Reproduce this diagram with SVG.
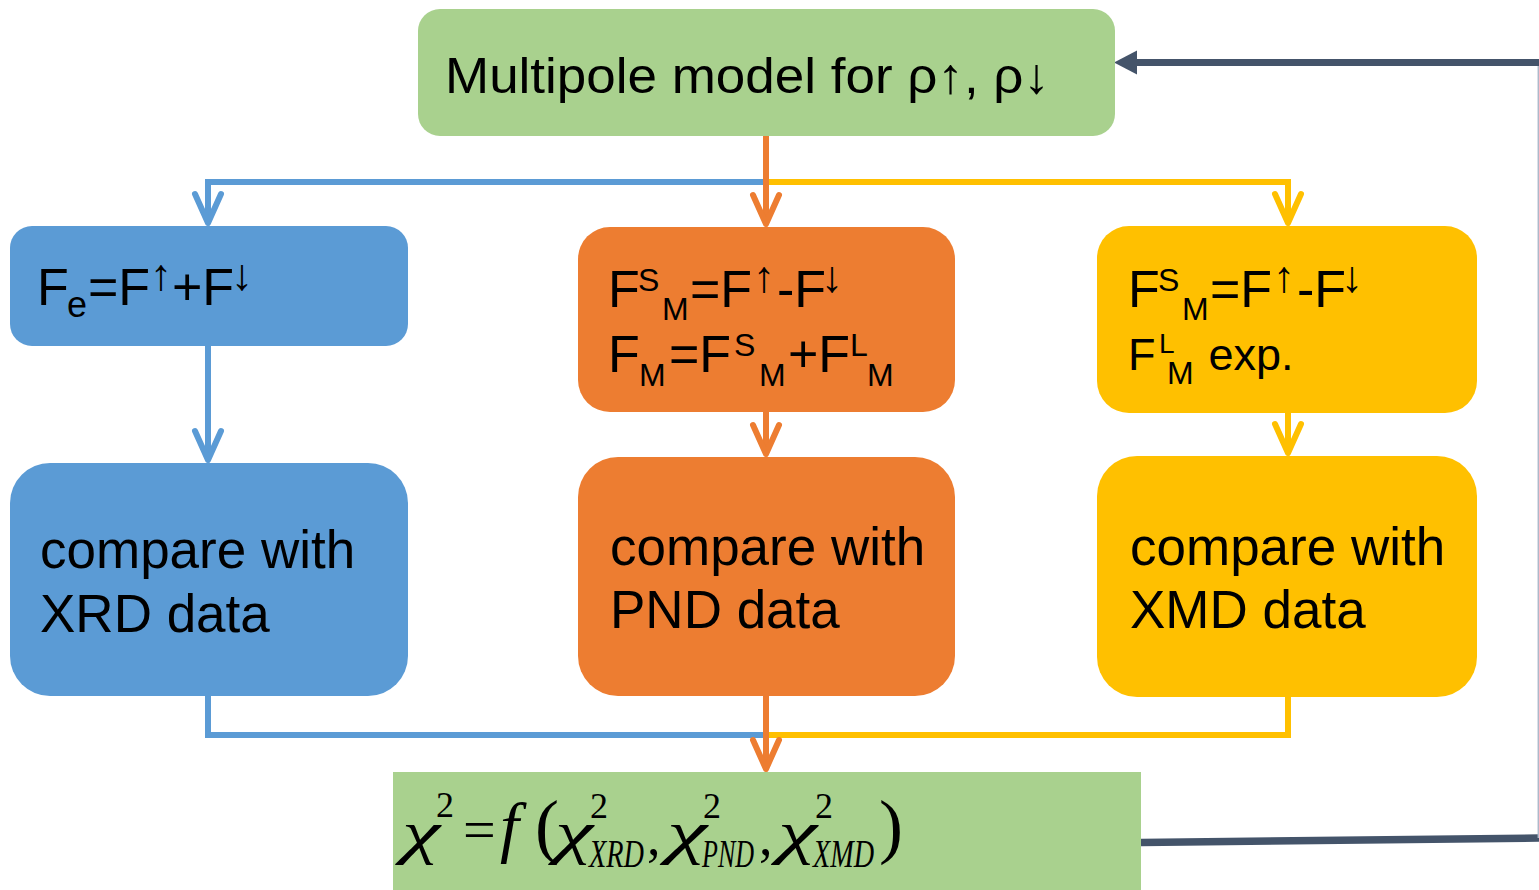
<svg xmlns="http://www.w3.org/2000/svg" width="1539" height="890" viewBox="0 0 1539 890">
  <style>
    .sans { font-family: "Liberation Sans", Arial, sans-serif; fill: #000; }
    .math { font-family: "Liberation Serif", "Times New Roman", serif; fill: #000; }
    .it { font-style: italic; }
    .arr { font-size: 44px; }
    .green { fill: #A9D18E; }
    .blue { fill: #5B9BD5; }
    .orange { fill: #ED7D31; }
    .yellow { fill: #FFC000; }
    .conn { fill: none; stroke-width: 6; stroke-linejoin: miter; }
  </style>
  <defs>
    <marker id="vBlue" markerUnits="userSpaceOnUse" orient="auto" refX="0" refY="0" markerWidth="40" markerHeight="40" viewBox="-34 -18 40 36" overflow="visible">
      <path d="M-29,-13 L0,0 L-29,13" fill="none" stroke="#5B9BD5" stroke-width="6" stroke-linecap="round" stroke-linejoin="round"/>
    </marker>
    <marker id="vOrange" markerUnits="userSpaceOnUse" orient="auto" refX="0" refY="0" markerWidth="40" markerHeight="40" viewBox="-34 -18 40 36" overflow="visible">
      <path d="M-29,-13 L0,0 L-29,13" fill="none" stroke="#ED7D31" stroke-width="6" stroke-linecap="round" stroke-linejoin="round"/>
    </marker>
    <marker id="vYellow" markerUnits="userSpaceOnUse" orient="auto" refX="0" refY="0" markerWidth="40" markerHeight="40" viewBox="-34 -18 40 36" overflow="visible">
      <path d="M-29,-13 L0,0 L-29,13" fill="none" stroke="#FFC000" stroke-width="6" stroke-linecap="round" stroke-linejoin="round"/>
    </marker>
  </defs>

  <rect width="1539" height="890" fill="#FFFFFF"/>

  <!-- connectors -->
  <g id="connectors">
    <!-- fan-out from the model box -->
    <path class="conn" stroke="#5B9BD5" d="M766,182 H208 V223" marker-end="url(#vBlue)"/>
    <path class="conn" stroke="#FFC000" d="M766,182 H1288 V223" marker-end="url(#vYellow)"/>
    <path class="conn" stroke="#ED7D31" d="M766,136 V224" marker-end="url(#vOrange)"/>
    <!-- structure factor to comparison -->
    <path class="conn" stroke="#5B9BD5" d="M208,346 V460" marker-end="url(#vBlue)"/>
    <path class="conn" stroke="#ED7D31" d="M766,412 V454" marker-end="url(#vOrange)"/>
    <path class="conn" stroke="#FFC000" d="M1288,413 V453" marker-end="url(#vYellow)"/>
    <!-- merge into chi-square -->
    <path class="conn" stroke="#5B9BD5" d="M208,696 V735 H766"/>
    <path class="conn" stroke="#FFC000" d="M1288,697 V735 H766"/>
    <path class="conn" stroke="#ED7D31" d="M766,696 V769" marker-end="url(#vOrange)"/>
    <!-- feedback loop -->
    <path d="M1141,842.5 L1545,838" fill="none" stroke="#44546A" stroke-width="7.5"/>
    <line x1="1538.3" y1="62" x2="1538.3" y2="838" stroke="#ADB9CA" stroke-width="1.5"/>
    <path d="M1545,62.5 H1134" fill="none" stroke="#44546A" stroke-width="7"/>
    <polygon points="1114,62.5 1137,50.5 1137,74.5" fill="#44546A"/>
  </g>

  <!-- multipole model -->
  <g id="node-model">
    <rect class="green" x="418" y="9" width="697" height="127" rx="22"/>
    <text class="sans" x="445" y="93" font-size="50" textLength="605" lengthAdjust="spacingAndGlyphs">Multipole model for  ρ↑, ρ↓</text>
  </g>

  <!-- electronic structure factor -->
  <g id="node-fe">
    <rect class="blue" x="10" y="226" width="398" height="120" rx="22"/>
    <text class="sans" font-size="52">
      <tspan x="37" y="305">F</tspan><tspan x="67" y="317" font-size="36">e</tspan><tspan x="88" y="305">=F</tspan><tspan class="arr" x="150" y="290">↑</tspan><tspan x="172" y="305">+F</tspan><tspan class="arr" x="231" y="290">↓</tspan>
    </text>
  </g>

  <!-- magnetic structure factor (neutrons) -->
  <g id="node-fm-pnd">
    <rect class="orange" x="578" y="227" width="377" height="185" rx="32"/>
    <text class="sans" font-size="52">
      <tspan x="608" y="307">F</tspan><tspan x="638" y="291" font-size="32">S</tspan><tspan x="662" y="320" font-size="32">M</tspan><tspan x="690" y="307">=F</tspan><tspan class="arr" x="753" y="292">↑</tspan><tspan x="777" y="307">-F</tspan><tspan class="arr" x="821" y="292">↓</tspan>
    </text>
    <text class="sans" font-size="52">
      <tspan x="608" y="372">F</tspan><tspan x="639" y="386" font-size="32">M</tspan><tspan x="669" y="372">=F</tspan><tspan x="734" y="356" font-size="32">S</tspan><tspan x="759" y="386" font-size="32">M</tspan><tspan x="788" y="372">+F</tspan><tspan x="850" y="356" font-size="32">L</tspan><tspan x="867" y="386" font-size="32">M</tspan>
    </text>
  </g>

  <!-- magnetic structure factor (x-rays) -->
  <g id="node-fm-xmd">
    <rect class="yellow" x="1097" y="226" width="380" height="187" rx="32"/>
    <text class="sans" font-size="52">
      <tspan x="1128" y="307">F</tspan><tspan x="1158" y="291" font-size="32">S</tspan><tspan x="1182" y="320" font-size="32">M</tspan><tspan x="1210" y="307">=F</tspan><tspan class="arr" x="1273" y="292">↑</tspan><tspan x="1297" y="307">-F</tspan><tspan class="arr" x="1341" y="292">↓</tspan>
    </text>
    <text class="sans" font-size="45">
      <tspan x="1128" y="370">F</tspan><tspan x="1159" y="353" font-size="28">L</tspan><tspan x="1167" y="384" font-size="32">M</tspan><tspan x="1196" y="370"> exp.</tspan>
    </text>
  </g>

  <!-- comparison boxes -->
  <g id="node-xrd">
    <rect class="blue" x="10" y="463" width="398" height="233" rx="40"/>
    <text class="sans" font-size="53"><tspan x="40" y="568">compare with</tspan><tspan x="40" y="632">XRD data</tspan></text>
  </g>
  <g id="node-pnd">
    <rect class="orange" x="578" y="457" width="377" height="239" rx="40"/>
    <text class="sans" font-size="53"><tspan x="610" y="565">compare with</tspan><tspan x="610" y="628">PND data</tspan></text>
  </g>
  <g id="node-xmd">
    <rect class="yellow" x="1097" y="456" width="380" height="241" rx="40"/>
    <text class="sans" font-size="53"><tspan x="1130" y="565">compare with</tspan><tspan x="1130" y="628">XMD data</tspan></text>
  </g>

  <!-- chi-square -->
  <g id="node-chi2">
    <rect class="green" x="393" y="772" width="748" height="118"/>
    <g class="math">
      <text class="it" x="402" y="852" font-size="60" textLength="38" lengthAdjust="spacingAndGlyphs">χ</text>
      <text x="436" y="817" font-size="36">2</text>
      <text x="463" y="849" font-size="58">=</text>
      <text class="it" x="500" y="850" font-size="68">f</text>
      <text x="535" y="850" font-size="72">(</text>
      <text class="it" x="555" y="852" font-size="60" textLength="38" lengthAdjust="spacingAndGlyphs">χ</text>
      <text x="590" y="818" font-size="36">2</text>
      <text class="it" x="589" y="867" font-size="40" textLength="55" lengthAdjust="spacingAndGlyphs">XRD</text>
      <text x="647" y="855" font-size="54">,</text>
      <text class="it" x="667" y="852" font-size="60" textLength="40" lengthAdjust="spacingAndGlyphs">χ</text>
      <text x="703" y="818" font-size="36">2</text>
      <text class="it" x="702" y="867" font-size="40" textLength="52" lengthAdjust="spacingAndGlyphs">PND</text>
      <text x="759" y="855" font-size="54">,</text>
      <text class="it" x="778" y="852" font-size="60" textLength="39" lengthAdjust="spacingAndGlyphs">χ</text>
      <text x="815" y="818" font-size="36">2</text>
      <text class="it" x="813" y="867" font-size="40" textLength="61" lengthAdjust="spacingAndGlyphs">XMD</text>
      <text x="879" y="850" font-size="72">)</text>
    </g>
  </g>
</svg>
